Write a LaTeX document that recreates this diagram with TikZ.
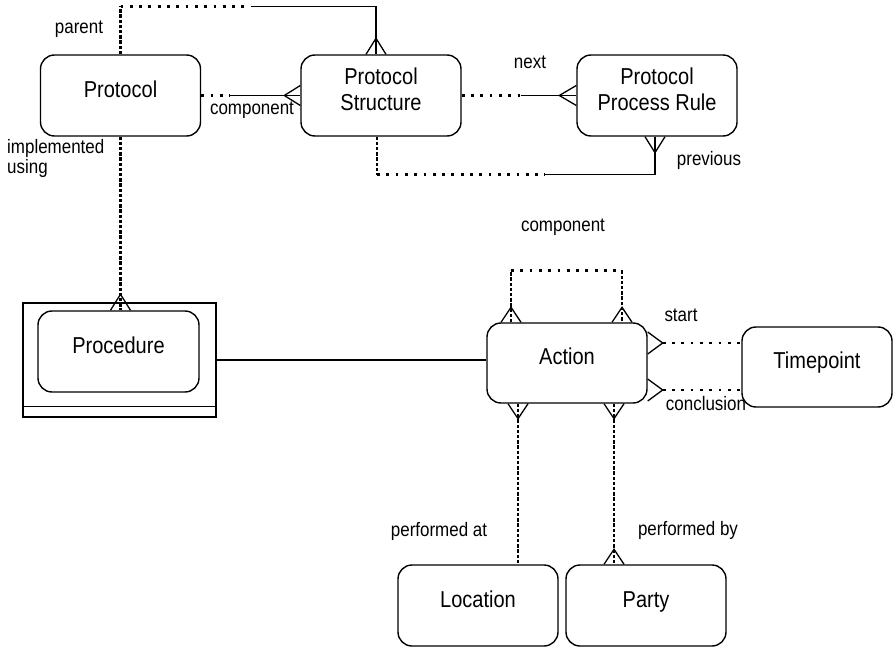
\documentclass[tikz,border=0pt]{standalone}
\usepackage{fontspec}
\setmainfont{Liberation Sans}[FakeStretch=0.87]
\usetikzlibrary{calc}
\begin{document}
\begin{tikzpicture}[x=1pt,y=-1pt,
  ent/.style={draw,line width=1.4pt,rounded corners=14pt,minimum width=160pt,minimum height=81pt,inner sep=0pt},
  enttext/.style={font=\fontsize{23}{26}\selectfont,align=center,yshift=4pt,inner sep=0pt,execute at begin node=\vphantom{Py}},
  lbl/.style={font=\fontsize{19.5}{20}\selectfont,inner sep=0pt},
  rel/.style={line width=1.3pt},
  hdots/.style={line width=2.8pt,dash pattern=on 2.8pt off 6.5pt},
  vdots/.style={line width=2.8pt,dash pattern=on 3.4pt off 1.8pt}]
\useasboundingbox (0,0) rectangle (894,647);
\clip (0,0) rectangle (894,647);

% entities
\node[ent,label={[enttext]center:Protocol}] (protocol) at (120.5,95.5) {};
\node[ent,label={[enttext]center:{Protocol\\Structure}}] (pstruct) at (381,95.5) {};
\node[ent,label={[enttext]center:{Protocol\\Process Rule}}] (ppr) at (657,95.5) {};
\node[draw,line width=1.4pt,minimum width=193pt,minimum height=114pt,inner sep=0pt] (procbox) at (119.5,360) {};
\draw[line width=1.4pt] ($(procbox.south west)+(0,-11)$) -- ($(procbox.south east)+(0,-11)$);
\node[ent,minimum width=161pt,label={[enttext]center:Procedure}] (procedure) at (118.5,351.5) {};
\node[ent,minimum height=80pt,label={[enttext]center:Action}] (action) at (567,363) {};
\node[ent,minimum width=150pt,minimum height=80pt,label={[enttext]center:Timepoint}] (timepoint) at (817,367) {};
\node[ent,label={[enttext]center:Location}] (location) at (478,605.5) {};
\node[ent,label={[enttext]center:Party}] (party) at (646,605.5) {};

% parent
\coordinate (psA) at ($(pstruct.north)+(-5,0)$);
\draw[vdots] (protocol.north) -- ++(0,-48) coordinate (par1);
\draw[hdots] (par1) -- ++(130,0) coordinate (par2);
\draw[rel] (par2) -| (psA);
\draw[rel] ($(psA)+(-10,0)$) -- ($(psA)+(0,-16)$) -- ($(psA)+(10,0)$);

% component
\draw[hdots] (protocol.east) -- ++(29,0) coordinate (cmp1);
\draw[rel] (cmp1) -- (pstruct.west);
\draw[rel] ($(pstruct.west)+(0,-10)$) -- ($(pstruct.west)+(-16,0)$) -- ($(pstruct.west)+(0,10)$);

% next
\draw[hdots] (pstruct.east) -- ++(59,0) coordinate (nx1);
\draw[rel] (nx1) -- (ppr.west);
\draw[rel] ($(ppr.west)+(0,-10)$) -- ($(ppr.west)+(-17,0)$) -- ($(ppr.west)+(0,10)$);

% previous
\coordinate (psB) at ($(pstruct.south)+(-4,0)$);
\coordinate (pprB) at ($(ppr.south)+(-2,0)$);
\draw[vdots] (psB) -- ++(0,38) coordinate (pv1);
\draw[hdots] (pv1) -- ++(168,0) coordinate (pv2);
\draw[rel] (pv2) -| (pprB);
\draw[rel] ($(pprB)+(-10,0)$) -- ($(pprB)+(0,16)$) -- ($(pprB)+(10,0)$);

% implemented using
\coordinate (prT) at (procedure.north -| protocol.south);
\draw[vdots] (protocol.south) -- (prT);
\draw[rel] ($(prT)+(-10,0)$) -- ($(prT)+(0,-16)$) -- ($(prT)+(10,0)$);

% procedure - action
\draw[rel] (procbox.east) -- (procbox.east -| action.west);

% action component loop
\coordinate (aTL) at ($(action.north)+(-56,0)$);
\coordinate (aTR) at ($(action.north)+(55,0)$);
\draw[vdots] (aTL) -- ++(0,-52) coordinate (lp1);
\draw[hdots] (lp1) -- (lp1 -| aTR) coordinate (lp2);
\draw[vdots] (lp2) -- (aTR);
\draw[rel] ($(aTL)+(-10,0)$) -- ($(aTL)+(0,-15)$) -- ($(aTL)+(10,0)$);
\draw[rel] ($(aTR)+(-10,0)$) -- ($(aTR)+(0,-15)$) -- ($(aTR)+(10,0)$);

% start / conclusion
\coordinate (aS) at ($(action.east)+(0,-20)$);
\coordinate (aC) at ($(action.east)+(0,27)$);
\draw[hdots] ($(aS)+(15,0)$) -- (aS -| timepoint.west);
\draw[hdots] ($(aC)+(15,0)$) -- (aC -| timepoint.west);
\draw[rel] ($(aS)+(0,-11)$) -- ($(aS)+(15,0)$) -- ($(aS)+(0,11)$);
\draw[rel] ($(aC)+(0,-11)$) -- ($(aC)+(15,0)$) -- ($(aC)+(0,11)$);

% performed at / by
\coordinate (aBL) at ($(action.south)+(-49,0)$);
\coordinate (aBR) at ($(action.south)+(47,0)$);
\coordinate (pT) at (aBR |- party.north);
\draw[vdots] (aBL) -- (aBL |- location.north);
\draw[vdots] (aBR) -- (pT);
\draw[rel] ($(aBL)+(-10,0)$) -- ($(aBL)+(0,15)$) -- ($(aBL)+(10,0)$);
\draw[rel] ($(aBR)+(-10,0)$) -- ($(aBR)+(0,15)$) -- ($(aBR)+(10,0)$);
\draw[rel] ($(pT)+(-10,0)$) -- ($(pT)+(0,-15)$) -- ($(pT)+(10,0)$);

% labels
\node[lbl] (lparent) at (79,29) {parent};
\node[lbl] (lcomp1) at (252,110) {component};
\node[lbl,align=left,anchor=west] (limpl) at (7,158) {implemented\\using};
\node[lbl] (lnext) at (530,62) {next};
\node[lbl] (lprev) at (709,160) {previous};
\node[lbl] (lcomp2) at (563,227) {component};
\node[lbl] (lstart) at (681,315) {start};
\node[lbl] (lconc) at (706,404) {conclusion};
\node[lbl] (lpat) at (439,531) {performed at};
\node[lbl] (lpby) at (688,530) {performed by};
\end{tikzpicture}
\end{document}
